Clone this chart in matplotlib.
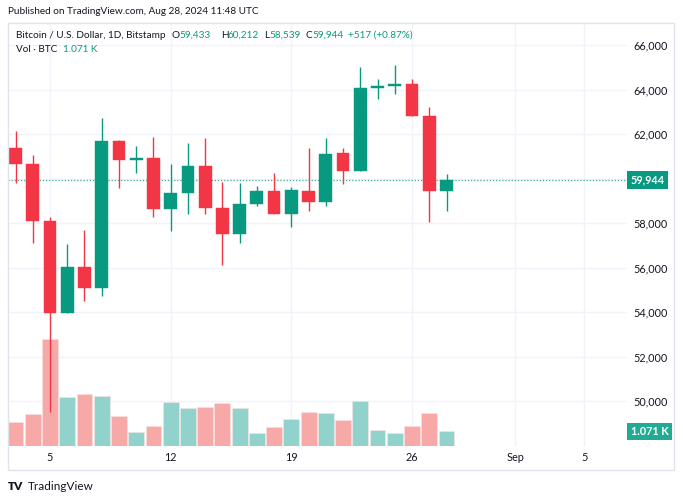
import numpy as np
import pandas as pd
import matplotlib
matplotlib.use('Agg')
import matplotlib.pyplot as plt
import matplotlib.dates as mdates
from matplotlib.patches import Rectangle
from matplotlib.lines import Line2D
from matplotlib.transforms import blended_transform_factory

# daily BTC/USD candles, Bitstamp, Aug 3 - Aug 28 2024
dates = pd.date_range('2024-08-03', '2024-08-28', freq='D')
opens = [61390, 60660, 58100, 53980, 56020, 55070, 61700, 60820, 60910, 58650,
         59340, 60580, 58660, 57510, 58850, 59440, 58400, 59440, 58960, 61150,
         60340, 64070, 64160, 64250, 62800, 59433]
highs = [62140, 61060, 58260, 57050, 57690, 62720, 61730, 61470, 61860, 60660,
         61590, 61810, 59840, 59820, 59670, 60240, 59610, 61390, 61810, 61390,
         64990, 64470, 65100, 64470, 63230, 60212]
lows = [59820, 57120, 49540, 53960, 54520, 54730, 59560, 60270, 58290, 57660,
        58430, 58430, 56110, 57100, 58780, 58390, 57810, 58550, 58780, 59760,
        60330, 63580, 63800, 62800, 58070, 58539]
closes = [60660, 58100, 53980, 56020, 55070, 61700, 60820, 60910, 58650, 59340,
          60580, 58660, 57510, 58870, 59440, 58400, 59490, 58960, 61120, 60340,
          64050, 64170, 64250, 62810, 59427, 59944]
volumes = [1750, 2310, 7780, 3600, 3790, 3670, 2190, 1000, 1440, 3240,
           2750, 2870, 3110, 2800, 950, 1390, 2000, 2510, 2430, 1870,
           3310, 1140, 950, 1440, 2430, 1071]

grid_prices = list(range(50000, 66001, 2000))
label_prices = [50000, 52000, 54000, 56000, 58000, 62000, 64000, 66000]  # 60,000 sits under the badge
tick_dates = ['2024-08-05', '2024-08-12', '2024-08-19', '2024-08-26', '2024-09-01', '2024-09-05']
tick_labels = ['5', '12', '19', '26', 'Sep', '5']

UP = '#089981'
DOWN = '#F23645'
UP_VOL = '#92D2CC'
DOWN_VOL = '#F7A9A7'
TXT = '#131722'
GRID = '#F0F3FA'
BORDER = '#E0E3EB'

plt.rcParams['font.family'] = ['Lato', 'DejaVu Sans']

W, H = 683, 500
fig = plt.figure(figsize=(W / 100, H / 100), dpi=100)
fig.patch.set_facecolor('white')

def fx(px):
    return px / W

def fy(py):
    return 1 - py / H

# outer frame of the chart
fig.patches.append(Rectangle((fx(8), fy(470)), fx(674) - fx(8), fy(23) - fy(470),
                             transform=fig.transFigure, fill=False, ec=BORDER, lw=1))

# volume axes at the back, price axes on top
ax_vol = fig.add_axes([fx(8), fy(446), fx(627) - fx(8), fy(23) - fy(446)])
ax = ax_vol.twinx()
ax.set_zorder(ax_vol.get_zorder() + 1)
ax.patch.set_visible(False)

x = mdates.date2num(dates)
o = np.array(opens)
c = np.array(closes)
up = c >= o

# volume bars
vol_colors = [UP_VOL if u else DOWN_VOL for u in up]
ax_vol.bar(x, volumes, width=0.92, color=vol_colors, edgecolor='#FBE3E3', linewidth=0.4, zorder=2)
ax_vol.set_ylim(0, 30800)
ax_vol.set_yticks([])

# grid lines (drawn on the back axes so volume bars sit above them)
for d in tick_dates:
    ax_vol.axvline(mdates.datestr2num(d), color=GRID, lw=1, zorder=0)
blend = blended_transform_factory(ax_vol.transAxes, ax.transData)
for p in grid_prices:
    ax_vol.add_line(Line2D([0, 1], [p, p], transform=blend, color=GRID, lw=1, zorder=0))

# candles
colors = [UP if u else DOWN for u in up]
ax.vlines(x, lows, highs, colors=colors, lw=1.0, zorder=3)
ax.bar(x, np.abs(c - o), bottom=np.minimum(o, c), width=0.74, color=colors,
       edgecolor=colors, linewidth=0.3, zorder=4)

# last price line
ax.axhline(closes[-1], color=UP, lw=0.9, ls=(0, (1, 1.5)), alpha=0.8, zorder=2)

ax.set_ylim(47994, 66988)
ax.set_xlim(mdates.datestr2num('2024-08-02') + 0.564, mdates.datestr2num('2024-08-02') + 36.47)

ax.set_yticks(label_prices)
ax.set_yticklabels([f'{p:,}' for p in label_prices])
ax.tick_params(axis='y', length=0, pad=4.5, labelsize=7.8, labelcolor=TXT)

ax_vol.set_xticks([mdates.datestr2num(d) for d in tick_dates])
ax_vol.set_xticklabels(tick_labels)
ax_vol.tick_params(axis='x', length=0, pad=4.5, labelsize=7.8, labelcolor=TXT)

for a in (ax, ax_vol):
    for s in a.spines.values():
        s.set_visible(False)

# price badges on the scale
tr = blended_transform_factory(ax.transAxes, ax.transData)
ax.text(1.006, closes[-1], f'{closes[-1]:,}', transform=tr, ha='left', va='center',
        fontsize=7.8, color='white', fontweight='bold',
        bbox=dict(boxstyle='square,pad=0.3', fc=UP, ec='none'), clip_on=False)
trv = blended_transform_factory(ax_vol.transAxes, ax_vol.transData)
ax_vol.text(1.006, volumes[-1], f'{volumes[-1] / 1000:.3f} K', transform=trv, ha='left', va='center',
            fontsize=7.8, color='white', fontweight='bold',
            bbox=dict(boxstyle='square,pad=0.3', fc='#22AB94', ec='none'), clip_on=False)

# header texts
fig.text(fx(8), fy(12), 'Published on TradingView.com, Aug 28, 2024 11:48 UTC',
         fontsize=7.2, color=TXT, va='center')

chg = closes[-1] - closes[-2]
legend_parts = [
    (16, 'Bitcoin / U.S. Dollar, 1D, Bitstamp', TXT),
    (172, 'O', TXT), (179, f'{opens[-1]:,}', UP),
    (221, 'H', TXT), (228, f'{highs[-1]:,}', UP),
    (264, 'L', TXT), (269, f'{lows[-1]:,}', UP),
    (306, 'C', TXT), (312, f'{closes[-1]:,}', UP),
    (348, f'+{chg:,} (+{chg / closes[-2] * 100:.2f}%)', UP),
]
for px, s, col in legend_parts:
    fig.text(fx(px), fy(35), s, fontsize=7.2, color=col, va='center')
fig.text(fx(16), fy(50), 'Vol \u00b7 BTC', fontsize=7.2, color=TXT, va='center')
fig.text(fx(63), fy(50), f'{volumes[-1] / 1000:.3f} K', fontsize=7.2, color=UP, va='center')

# footer logo
fig.text(fx(8), fy(487), 'TV', fontsize=8.5, color=TXT, fontweight='heavy', va='center')
fig.text(fx(28), fy(487), 'TradingView', fontsize=8.5, color=TXT, va='center')

fig.savefig('out.png', dpi=100)
